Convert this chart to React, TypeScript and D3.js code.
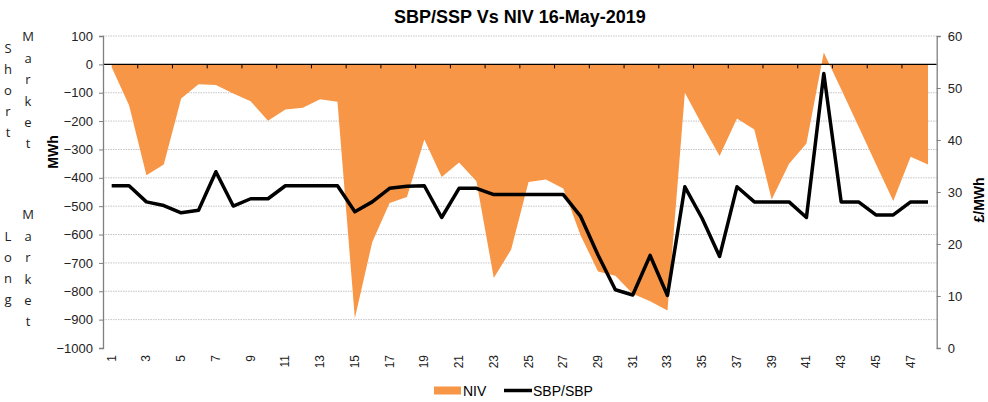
import { useEffect, useRef } from "react";
import * as d3 from "d3";

// settlement periods 1..48
const periods = d3.range(1, 49).map(String);

// NIV (MWh)
const niv = [
  -10, -144, -391, -353, -120, -70, -73, -103, -130, -199, -159, -153, -123, -132,
  -895, -627, -489, -468, -265, -397, -346, -412, -753, -653, -415, -406, -438, -603,
  -730, -745, -809, -835, -868, -100, -214, -323, -191, -230, -476, -350, -279, 42,
  -88, -219, -351, -482, -326, -353,
];

// SBP/SBP (£/MWh), black line on right axis
const price = [
  31.2, 31.2, 28.1, 27.4, 26.0, 26.5, 33.9, 27.3, 28.7, 28.7, 31.2, 31.2, 31.2, 31.2,
  26.2, 28.1, 30.7, 31.1, 31.2, 25.1, 30.7, 30.7, 29.5, 29.5, 29.5, 29.5, 29.5, 25.3,
  17.9, 11.2, 10.2, 17.8, 10.1, 31.0, 24.9, 17.6, 31.0, 28.1, 28.1, 28.1, 25.1, 52.8,
  28.1, 28.1, 25.6, 25.6, 28.1, 28.1,
];

const leftTicks = d3.range(-1000, 101, 100);
const rightTicks = d3.range(0, 61, 10);

const App = () => {
  const ref = useRef<SVGSVGElement>(null);

  useEffect(() => {
    draw();
  }, []);

  const draw = () => {
    const width = 988;
    const height = 402;
    const left = 103;
    const right = 936.7;
    const top = 36;
    const bottom = 348;
    const font = "Arial, 'Liberation Sans', sans-serif";
    const orange = "#F79646";

    const svg = d3.select(ref.current).attr("width", width).attr("height", height);
    svg.selectAll("*").remove();

    const x = d3.scaleBand().domain(periods).range([left, right]).paddingInner(0).paddingOuter(0);
    const cx = (p: string) => (x(p) as number) + x.bandwidth() / 2;
    const yL = d3.scaleLinear().domain([-1000, 100]).range([bottom, top]);
    const yR = d3.scaleLinear().domain([0, 60]).range([bottom, top]);

    // gridlines
    svg
      .append("g")
      .selectAll("line")
      .data(leftTicks.filter((t) => t !== 0 && t !== -1000))
      .join("line")
      .attr("x1", left)
      .attr("x2", right)
      .attr("y1", (d) => yL(d))
      .attr("y2", (d) => yL(d))
      .attr("stroke", "#c4c4c4")
      .attr("stroke-dasharray", "1.5,1");

    // NIV area
    const area = d3
      .area<number>()
      .x((d, i) => cx(periods[i]))
      .y0(yL(0))
      .y1((d) => yL(d));
    svg.append("path").datum(niv).attr("d", area).attr("fill", orange);

    // zero (category) axis line + ticks
    svg
      .append("line")
      .attr("x1", left)
      .attr("x2", right)
      .attr("y1", yL(0))
      .attr("y2", yL(0))
      .attr("stroke", "#000")
      .attr("stroke-width", 1.2);
    svg
      .append("g")
      .selectAll("line")
      .data(periods.filter((p, i) => i % 2 === 0).slice(1))
      .join("line")
      .attr("x1", (d) => x(d) as number)
      .attr("x2", (d) => x(d) as number)
      .attr("y1", yL(0))
      .attr("y2", yL(0) + 4)
      .attr("stroke", "#000");

    // price line
    const line = d3
      .line<number>()
      .x((d, i) => cx(periods[i]))
      .y((d) => yR(d));
    svg
      .append("path")
      .datum(price)
      .attr("d", line)
      .attr("fill", "none")
      .attr("stroke", "#000")
      .attr("stroke-width", 3.5)
      .attr("stroke-linejoin", "round");

    // left axis
    const yAxisL = svg
      .append("g")
      .attr("transform", `translate(${left},0)`)
      .call(d3.axisLeft(yL).tickValues(leftTicks).tickFormat(d3.format("d")).tickSize(4).tickPadding(6));
    // right axis
    const yAxisR = svg
      .append("g")
      .attr("transform", `translate(${right},0)`)
      .call(d3.axisRight(yR).tickValues(rightTicks).tickSize(4).tickPadding(7));
    [yAxisL, yAxisR].forEach((g) => {
      g.select(".domain").attr("stroke", "#7f7f7f").attr("stroke-width", 1.3);
      g.selectAll(".tick line").attr("stroke", "#7f7f7f");
      g.selectAll(".tick text").attr("font-family", font).attr("font-size", 13).attr("fill", "#222");
    });

    // category labels at bottom
    svg
      .append("g")
      .selectAll("text")
      .data(periods.filter((p, i) => i % 2 === 0))
      .join("text")
      .attr("transform", (d) => `translate(${cx(d) + 4},${bottom + 7}) rotate(-90)`)
      .attr("text-anchor", "end")
      .attr("font-family", font)
      .attr("font-size", 12)
      .attr("fill", "#222")
      .text((d) => d);

    // title
    svg
      .append("text")
      .attr("x", (left + right) / 2)
      .attr("y", 23)
      .attr("text-anchor", "middle")
      .attr("font-family", font)
      .attr("font-weight", "bold")
      .attr("font-size", 18)
      .text("SBP/SSP Vs NIV 16-May-2019");

    // axis titles
    svg
      .append("text")
      .attr("transform", "translate(58,152) rotate(-90)")
      .attr("text-anchor", "middle")
      .attr("font-family", font)
      .attr("font-weight", "bold")
      .attr("font-size", 14)
      .text("MWh");
    svg
      .append("text")
      .attr("transform", "translate(984,200) rotate(-90)")
      .attr("text-anchor", "middle")
      .attr("font-family", font)
      .attr("font-weight", "bold")
      .attr("font-size", 14)
      .text("£/MWh");

    // Short / Long Market stacked letters
    const stack = (word: string, xPos: number, y0: number, step: number) => {
      svg
        .append("g")
        .selectAll("text")
        .data(word.split(""))
        .join("text")
        .attr("x", xPos)
        .attr("y", (d, i) => y0 + i * step)
        .attr("text-anchor", "middle")
        .attr("dominant-baseline", "middle")
        .attr("font-family", "'Open Sans', sans-serif")
        .attr("font-size", 13)
        .attr("fill", "#222")
        .text((d) => d);
    };
    stack("Short", 8, 50, 20.8);
    stack("Market", 28, 38, 21.4);
    stack("Long", 8, 238, 20.8);
    stack("Market", 28, 216, 21.4);

    // legend
    const lg = svg.append("g");
    lg.append("rect").attr("x", 434).attr("y", 386.5).attr("width", 27).attr("height", 8).attr("fill", orange);
    lg.append("text")
      .attr("x", 463)
      .attr("y", 396)
      .attr("font-family", font)
      .attr("font-size", 14)
      .text("NIV");
    lg.append("line")
      .attr("x1", 504)
      .attr("x2", 532)
      .attr("y1", 390.5)
      .attr("y2", 390.5)
      .attr("stroke", "#000")
      .attr("stroke-width", 3.5);
    lg.append("text")
      .attr("x", 533)
      .attr("y", 396)
      .attr("font-family", font)
      .attr("font-size", 14)
      .text("SBP/SBP");
  };

  return (
    <div>
      <svg ref={ref} style={{ position: "absolute", left: 0, top: 0 }}></svg>
    </div>
  );
};

export default App;
